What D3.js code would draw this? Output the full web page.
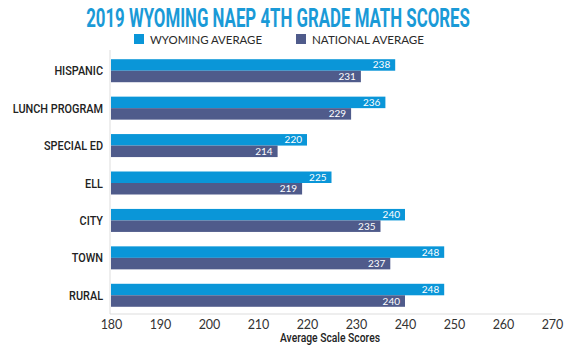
<!DOCTYPE html>
<html>
<head>
<meta charset="utf-8">
<script src="https://cdn.jsdelivr.net/npm/d3@7"></script>
<style>
  body { margin: 0; background: #fff; }
  svg { display: block; }
</style>
</head>
<body>
<div id="chart"></div>
<script>
// chart data
const categories = ["HISPANIC", "LUNCH PROGRAM", "SPECIAL ED", "ELL", "CITY", "TOWN", "RURAL"];
const wyomingAvg = [238, 236, 220, 225, 240, 248, 248];
const nationalAvg = [231, 229, 214, 219, 235, 237, 240];
const seriesNames = ["WYOMING AVERAGE", "NATIONAL AVERAGE"];
const xTicks = [180, 190, 200, 210, 220, 230, 240, 250, 260, 270];

const colors = ["#0a96d8", "#4f5b8b"];
const width = 570, height = 354;

const svg = d3.select("#chart").append("svg")
    .attr("width", width)
    .attr("height", height);

// squeeze a text to a narrower width (the original uses a condensed face)
function condense(sel, factor) {
    sel.each(function() {
        const w = this.getComputedTextLength();
        d3.select(this)
            .attr("textLength", w * factor)
            .attr("lengthAdjust", "spacingAndGlyphs");
    });
}

// title, scaled horizontally to look condensed
const title = svg.append("text")
    .attr("text-anchor", "middle")
    .attr("font-family", "Roboto, sans-serif")
    .attr("font-weight", "bold")
    .attr("font-size", 25)
    .attr("fill", "#1a9ad7")
    .text("2019 WYOMING NAEP 4TH GRADE MATH SCORES");
const titleW = title.node().getComputedTextLength();
title.attr("transform", `translate(278, 27) scale(${384 / titleW}, 1)`);

// legend
const legendX = [134, 296];
const legendW = [112, 112];
seriesNames.forEach((name, i) => {
    const g = svg.append("g").attr("transform", `translate(${legendX[i]}, 34)`);
    g.append("rect").attr("width", 10).attr("height", 10).attr("fill", colors[i]);
    g.append("text")
        .attr("x", 16).attr("y", 10)
        .attr("font-family", "Lato, sans-serif")
        .attr("font-size", 12)
        .attr("fill", "#2a2a2a")
        .attr("textLength", legendW[i])
        .attr("lengthAdjust", "spacingAndGlyphs")
        .text(name);
});

// scales
const x = d3.scaleLinear().domain([180, 270]).range([111, 552]);
const y = d3.scaleBand().domain(categories).range([52, 314]);
const barH = 11.5;

const rows = categories.map((c, i) => ({cat: c, vals: [wyomingAvg[i], nationalAvg[i]]}));

const row = svg.selectAll(".row")
    .data(rows)
    .join("g")
    .attr("class", "row")
    .attr("transform", d => `translate(0, ${y(d.cat) + y.bandwidth() / 2 - barH})`);

row.selectAll("rect")
    .data(d => d.vals)
    .join("rect")
    .attr("x", x(180))
    .attr("y", (d, i) => i * barH)
    .attr("width", d => x(d) - x(180))
    .attr("height", barH)
    .attr("fill", (d, i) => colors[i]);

row.selectAll(".val")
    .data(d => d.vals)
    .join("text")
    .attr("class", "val")
    .attr("x", d => x(d) - 5)
    .attr("y", (d, i) => i * barH + barH / 2 + 3.5)
    .attr("text-anchor", "end")
    .attr("font-family", "Lato, sans-serif")
    .attr("font-size", 10)
    .attr("fill", "#fff")
    .text(d => d);

// category labels
svg.selectAll(".cat")
    .data(categories)
    .join("text")
    .attr("class", "cat")
    .attr("x", 103)
    .attr("y", d => y(d) + y.bandwidth() / 2 + 4.5)
    .attr("text-anchor", "end")
    .attr("font-family", "Roboto, sans-serif")
    .attr("font-weight", 500)
    .attr("font-size", 12.5)
    .attr("fill", "#222")
    .text(d => d)
    .call(condense, 0.87);

// axes lines
svg.append("line")
    .attr("x1", 110).attr("x2", 110)
    .attr("y1", 50).attr("y2", 314)
    .attr("stroke", "#ddd");
svg.append("line")
    .attr("x1", 110).attr("x2", 552)
    .attr("y1", 314).attr("y2", 314)
    .attr("stroke", "#ddd");

// x axis
const xAxis = svg.append("g")
    .attr("transform", "translate(0, 314)")
    .call(d3.axisBottom(x).tickValues(xTicks).tickSize(0).tickPadding(6));
xAxis.select(".domain").remove();
xAxis.selectAll("text")
    .attr("font-family", "Lato, sans-serif")
    .attr("font-size", 12.5)
    .attr("fill", "#333");

svg.append("text")
    .attr("x", 330)
    .attr("y", 342)
    .attr("text-anchor", "middle")
    .attr("font-family", "Roboto, sans-serif")
    .attr("font-weight", 500)
    .attr("font-size", 12)
    .attr("fill", "#222")
    .attr("textLength", 100)
    .attr("lengthAdjust", "spacingAndGlyphs")
    .text("Average Scale Scores");
</script>
</body>
</html>
